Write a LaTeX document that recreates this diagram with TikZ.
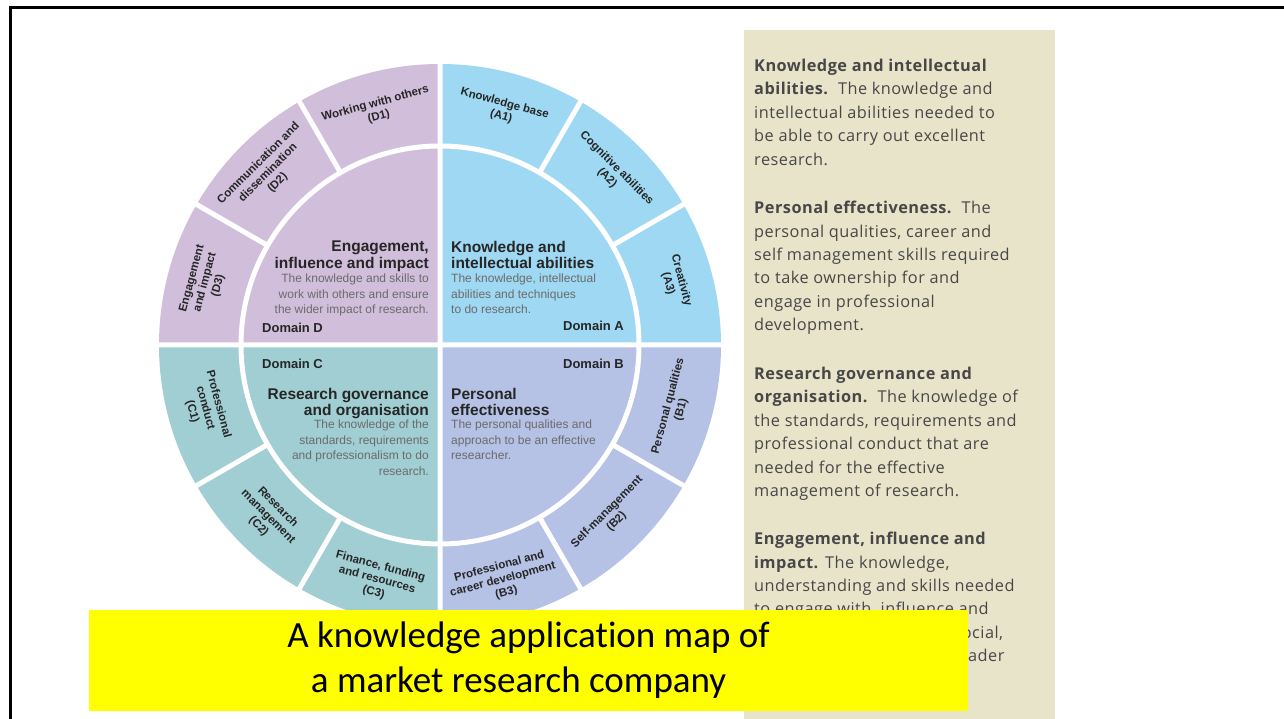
\documentclass[tikz,border=0pt]{standalone}
\usepackage{fontspec}
\setmainfont{Liberation Sans}
\newfontfamily\panelfont[LetterSpace=3]{Open Sans}
\newfontfamily\capfont[Ligatures=NoCommon]{Carlito}
\usetikzlibrary{positioning}
\definecolor{domA}{RGB}{158,216,242}
\definecolor{domB}{RGB}{181,193,229}
\definecolor{domC}{RGB}{160,206,211}
\definecolor{domD}{RGB}{209,190,219}
\definecolor{panelbg}{RGB}{232,228,202}
\definecolor{capyellow}{RGB}{255,255,0}

\begin{document}
\begin{tikzpicture}[x=1pt,y=1pt,
        gap/.style={white,line width=5pt},
        seg/.style={align=center,inner sep=0pt,text=black!85,
          font=\fontsize{11.5}{13.5}\selectfont\bfseries},
        dtitle/.style={inner sep=0pt,text=black!85,
          font=\fontsize{15.5}{16.5}\selectfont\bfseries},
        ddesc/.style={inner sep=0pt,text=black!58,
          font=\fontsize{12}{15.4}\selectfont},
        dname/.style={inner sep=0pt,text=black!85,
          font=\fontsize{13}{15}\selectfont\bfseries},
        para/.style={inner sep=0pt,align=left,text=black!72,
          font=\panelfont\fontsize{16.3}{23.4}\selectfont},
        capbox/.style={fill=capyellow,inner sep=0pt,align=center,
          minimum width=879pt,minimum height=101pt,
          font=\capfont\fontsize{37}{45}\selectfont}]

  \useasboundingbox (0,0) rectangle (1284,719);
  \draw[line width=3pt] (10,-2) -- (10,711) -- (1286,711);

  \fill[panelbg] (744,0) rectangle (1055,689);
  \node[para,anchor=north west] (kia) at (754,660)
    {\textbf{Knowledge and intellectual}\\\textbf{abilities.}\ \ The knowledge and\\
     intellectual abilities needed to\\be able to carry out excellent\\research.};
  \node[para,anchor=north west] (pe) at (754,518)
    {\textbf{Personal effectiveness.}\ \ The\\personal qualities, career and\\
     self management skills required\\to take ownership for and\\
     engage in professional\\development.};
  \node[para,anchor=north west] (rgo) at (754,352)
    {\textbf{Research governance and}\\\textbf{organisation.}\ \ The knowledge of\\
     the standards, requirements and\\professional conduct that are\\
     needed for the effective\\management of research.};
  \node[para,anchor=north west] (eii) at (754,187)
    {\textbf{Engagement, influence and}\\\textbf{impact.} The knowledge,\\
     understanding and skills needed\\to engage with, influence and\\
     impact on the academic, social,\\cultural, economic and broader\\context.};

  \begin{scope}[shift={(440,374)}]
    \fill[domA] (0,0) -- (0:281) arc[start angle=0,end angle=90,radius=281pt] -- cycle;
    \fill[domD] (0,0) -- (90:281) arc[start angle=90,end angle=180,radius=281pt] -- cycle;
    \fill[domC] (0,0) -- (180:281) arc[start angle=180,end angle=270,radius=281pt] -- cycle;
    \fill[domB] (0,0) -- (270:281) arc[start angle=270,end angle=360,radius=281pt] -- cycle;
    \draw[gap] (0,0) circle[radius=199pt];
    \draw[gap] (-284,0) -- (284,0) (0,-284) -- (0,284)
      (30:199) -- (30:284) (60:199) -- (60:284) (120:199) -- (120:284)
      (150:199) -- (150:284) (210:199) -- (210:284) (240:199) -- (240:284)
      (300:199) -- (300:284) (330:199) -- (330:284);

    \node[seg,rotate=-15] (a1) at (75:243) {Knowledge base\\(A1)};
    \node[seg,rotate=-45] (a2) at (45:243) {Cognitive abilities\\(A2)};
    \node[seg,rotate=-75] (a3) at (15:243) {Creativity\\(A3)};
    \node[seg,rotate=15] (d1) at (105:243) {Working with others\\(D1)};
    \node[seg,rotate=45] (d2) at (135:243) {Communication and\\dissemination\\(D2)};
    \node[seg,rotate=75] (d3) at (165:243) {Engagement\\and impact\\(D3)};
    \node[seg,rotate=-75] (c1) at (195:243) {Professional\\conduct\\(C1)};
    \node[seg,rotate=-45] (c2) at (225:243) {Research\\management\\(C2)};
    \node[seg,rotate=-15] (c3) at (255:243) {Finance, funding\\and resources\\(C3)};
    \node[seg,rotate=15] (b3) at (285:243) {Professional and\\career development\\(B3)};
    \node[seg,rotate=45] (b2) at (315:243) {Self-management\\(B2)};
    \node[seg,rotate=75] (b1) at (345:243) {Personal qualities\\(B1)};
  \end{scope}

  \node[dtitle,align=right,anchor=north east] (dt) at (429,478) {Engagement,\\influence and impact};
  \node[ddesc,align=right,anchor=north east] (dd) at (429,445)
    {The knowledge and skills to\\work with others and ensure\\the wider impact of research.};
  \node[dname,anchor=base west] (dn) at (262,386) {Domain D};

  \node[dtitle,align=left,anchor=north west] (at) at (451,478) {Knowledge and\\intellectual abilities};
  \node[ddesc,align=left,anchor=north west] (ad) at (451,445)
    {The knowledge, intellectual\\abilities and techniques\\to do research.};
  \node[dname,anchor=base east] (an) at (624,388) {Domain A};

  \node[dname,anchor=base west] (cn) at (262,350) {Domain C};
  \node[dtitle,align=right,anchor=north east] (ct) at (429,331) {Research governance\\and organisation};
  \node[ddesc,align=right,anchor=north east] (cd) at (429,299)
    {The knowledge of the\\standards, requirements\\and professionalism to do\\research.};

  \node[dname,anchor=base east] (bn) at (624,350) {Domain B};
  \node[dtitle,align=left,anchor=north west] (bt) at (451,331) {Personal\\effectiveness};
  \node[ddesc,align=left,anchor=north west] (bd) at (451,299)
    {The personal qualities and\\approach to be an effective\\researcher.};

  \node[capbox] (cap) at (528.5,58.5) {A knowledge application map of\\a market research company\hspace*{20pt}};

\end{tikzpicture}
\end{document}
